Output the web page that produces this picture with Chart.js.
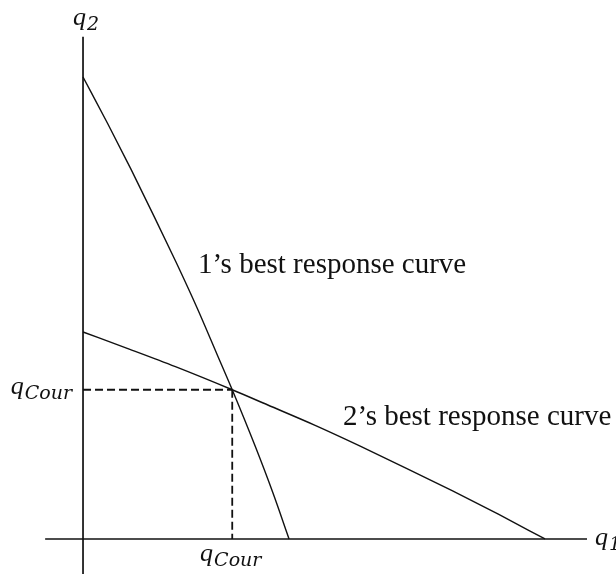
<!DOCTYPE html>
<html>
<head>
<meta charset="utf-8">
<script src="https://cdn.jsdelivr.net/npm/chart.js@4/dist/chart.umd.min.js"></script>
<style>
  html,body{margin:0;padding:0;background:#fff;}
  #wrap{width:616px;height:574px;}
</style>
</head>
<body>
<div id="wrap"><canvas id="cournot" width="616" height="574"></canvas></div>
<script>
// best response of firm 1: q1 as q2 varies
const br1Q1 = [0, 0.53, 1.04, 1.53, 2.01, 2.47, 2.90, 3.23, 3.73, 4.11, 4.46];
const br1Q2 = [10, 9, 8, 7, 6, 5, 4, 3.23, 2, 1, 0];
// best response of firm 2: q2 as q1 varies
const br2Q1 = [0, 1, 2, 3.23, 4, 5, 6, 7, 8, 9, 10];
const br2Q2 = [4.48, 4.11, 3.73, 3.23, 2.90, 2.47, 2.01, 1.53, 1.04, 0.53, 0];
// Cournot equilibrium
const qCour = 3.23;
// axis extents
const q1Axis = [-0.82, 10.91];
const q2Axis = [-0.76, 10.87];

const pts = (xs, ys) => xs.map((x, i) => ({x: x, y: ys[i]}));

const ink = '#111';
const curve = (data) => ({
  data, borderColor: ink, borderWidth: 1.4, pointRadius: 0,
  showLine: true, cubicInterpolationMode: 'monotone', fill: false
});

const labels = {
  id: 'labels',
  afterDatasetsDraw(chart) {
    const {ctx, scales: {x, y}} = chart;
    const ox = x.getPixelForValue(0), oy = y.getPixelForValue(0);
    ctx.save();
    ctx.fillStyle = ink;
    ctx.textBaseline = 'alphabetic';

    // q with a subscript, anchored at (px, py)
    const qSub = (sub, px, py, align) => {
      ctx.font = 'italic 26px "Liberation Serif"';
      const w1 = ctx.measureText('q').width;
      ctx.font = 'italic 19px "DejaVu Serif"';
      const w2 = ctx.measureText(sub).width;
      let left = px;
      if (align === 'center') left = px - (w1 + w2) / 2;
      if (align === 'right') left = px - (w1 + w2);
      ctx.textAlign = 'left';
      ctx.font = 'italic 26px "Liberation Serif"';
      ctx.fillText('q', left, py);
      ctx.font = 'italic 19px "DejaVu Serif"';
      ctx.fillText(sub, left + w1 + 1, py + 5);
    };

    qSub('2', ox - 10, y.getPixelForValue(q2Axis[1]) - 12, 'left');
    qSub('1', x.getPixelForValue(q1Axis[1]) + 8, oy + 6, 'left');
    qSub('Cour', ox - 12, y.getPixelForValue(qCour) + 4, 'right');
    qSub('Cour', x.getPixelForValue(qCour) - 2, oy + 22, 'center');

    ctx.font = '29px "Liberation Serif"';
    ctx.textAlign = 'left';
    ctx.fillText('1\u2019s best response curve', x.getPixelForValue(2.49), y.getPixelForValue(5.76));
    ctx.fillText('2\u2019s best response curve', x.getPixelForValue(5.63), y.getPixelForValue(2.47));
    ctx.restore();
  }
};

new Chart(document.getElementById('cournot'), {
  type: 'scatter',
  data: {
    datasets: [
      // axes
      {data: pts(q1Axis, [0, 0]), borderColor: ink, borderWidth: 1.7, pointRadius: 0, showLine: true},
      {data: pts([0, 0], q2Axis), borderColor: ink, borderWidth: 1.7, pointRadius: 0, showLine: true},
      // equilibrium guides
      {data: pts([0, qCour], [qCour, qCour]), borderColor: ink, borderWidth: 1.8, borderDash: [8, 4], pointRadius: 0, showLine: true},
      {data: pts([qCour, qCour], [qCour, 0]), borderColor: ink, borderWidth: 1.8, borderDash: [8, 4], pointRadius: 0, showLine: true},
      curve(pts(br1Q1, br1Q2)),
      curve(pts(br2Q1, br2Q2))
    ]
  },
  options: {
    responsive: false,
    animation: false,
    devicePixelRatio: 1,
    layout: {padding: 0},
    plugins: {legend: {display: false}, tooltip: {enabled: false}},
    scales: {
      x: {type: 'linear', display: false, min: -1.797, max: 11.537},
      y: {type: 'linear', display: false, min: -0.758, max: 11.667}
    }
  },
  plugins: [labels]
});
</script>
</body>
</html>
